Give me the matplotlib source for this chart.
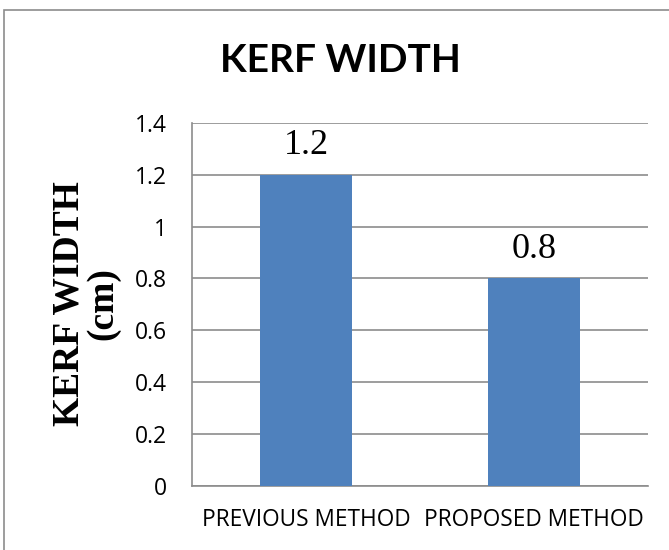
import matplotlib.pyplot as plt
from matplotlib.patches import Rectangle

# data
categories = ["PREVIOUS METHOD", "PROPOSED METHOD"]
kerf_width = [1.2, 0.8]
y_ticks = [0, 0.2, 0.4, 0.6, 0.8, 1, 1.2, 1.4]
y_tick_labels = ["0", "0.2", "0.4", "0.6", "0.8", "1", "1.2", "1.4"]

W, H = 669, 550
fig = plt.figure(figsize=(W / 100, H / 100), dpi=100)

# outer chart border (Excel style)
fig.patches.append(Rectangle((4 / W, -0.1), 1.2, (H - 10) / H + 0.1,
                             transform=fig.transFigure, fill=False,
                             edgecolor="#8c8c8c", linewidth=1.2))

ax = fig.add_axes([192 / W, (H - 486) / H, (648 - 192) / W, (486 - 122.7) / H])

x = range(len(categories))
bars = ax.bar(x, kerf_width, width=0.4, color="#4f81bd", zorder=3)

ax.set_xlim(-0.5, 1.5)
ax.set_ylim(0, 1.4)
ax.set_yticks(y_ticks)
ax.set_yticklabels(y_tick_labels, family="Open Sans", fontsize=16.5)
ax.set_xticks(list(x))
ax.set_xticklabels(categories, family="Open Sans", fontsize=16.3)
ax.tick_params(axis="both", length=0)
ax.tick_params(axis="y", pad=18)
ax.tick_params(axis="x", pad=16)

ax.grid(axis="y", color="#8c8c8c", linewidth=1.2, zorder=0)
for side in ["top", "right"]:
    ax.spines[side].set_visible(False)
for side in ["left", "bottom"]:
    ax.spines[side].set_color("#8c8c8c")
    ax.spines[side].set_linewidth(1.2)

# value labels above bars
for b, v in zip(bars, kerf_width):
    ax.annotate(f"{v}", (b.get_x() + b.get_width() / 2, v),
                xytext=(0, 14.5), textcoords="offset points",
                ha="center", va="baseline",
                family="Liberation Serif", fontsize=26)

fig.text(340 / W, (H - 72) / H, "KERF WIDTH", ha="center", va="baseline",
         family="Lato", fontweight="bold", fontsize=28)

fig.text(86 / W, (H - 303.5) / H, "KERF WIDTH\n(cm)", rotation=90,
         ha="center", va="center", multialignment="center",
         family="Liberation Serif", fontweight="bold", fontsize=27,
         linespacing=0.95)

fig.savefig("out.png", dpi=100)
